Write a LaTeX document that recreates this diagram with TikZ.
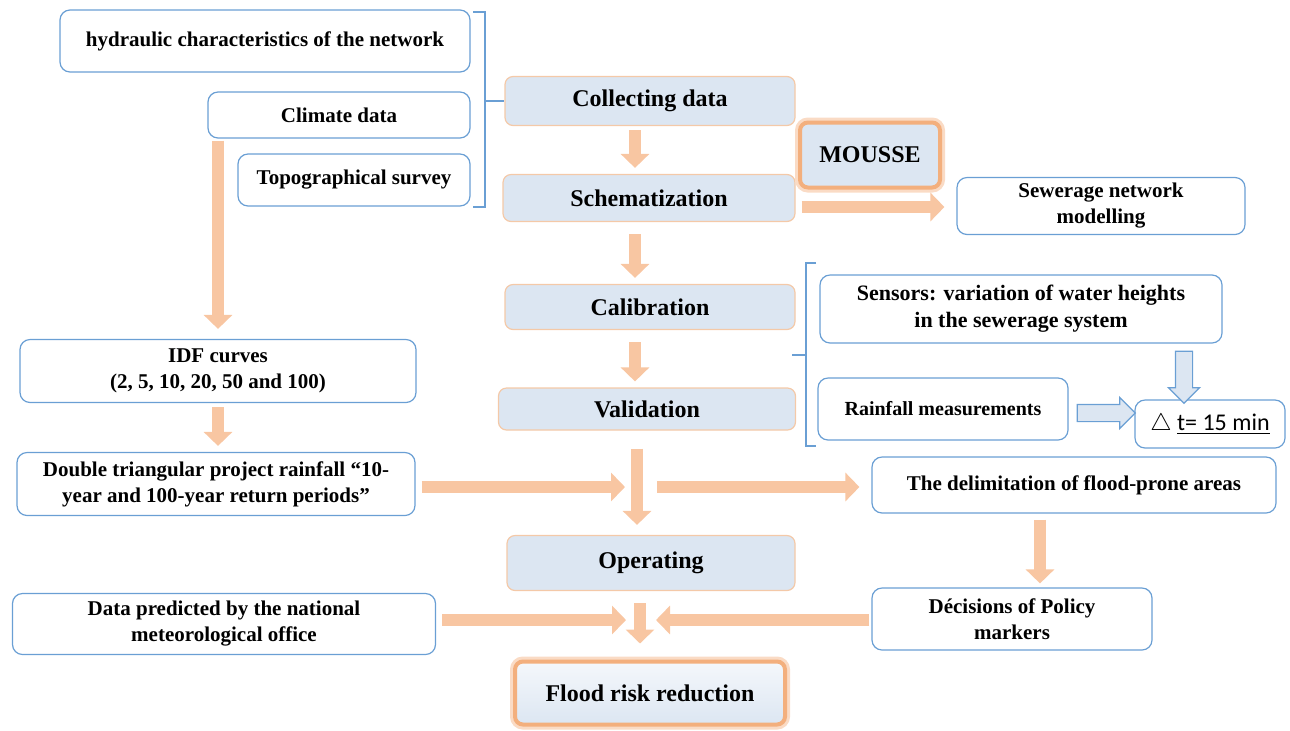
\documentclass[tikz,border=0pt]{standalone}
\usepackage{fontspec}
\setmainfont{Liberation Serif}
\newfontfamily\calfont{Carlito}
\usetikzlibrary{positioning, shapes.arrows, arrows.meta, calc}
\definecolor{sideblue}{HTML}{6A9FD4}
\definecolor{stepfill}{HTML}{DCE6F2}
\definecolor{stepline}{HTML}{F4C9A8}
\definecolor{peach}{HTML}{F8C6A2}
\definecolor{glow}{HTML}{F2A66E}

\tikzset{
  sidebox/.style={draw=sideblue, line width=0.6pt, rounded corners=5pt, fill=white,
                  align=center, inner sep=1pt, font=\bfseries\fontsize{10.5}{13}\selectfont},
  stepbox/.style={draw=stepline, line width=0.6pt, rounded corners=4pt, fill=stepfill,
                  align=center, inner sep=1pt, font=\bfseries\fontsize{12}{14}\selectfont},
  glowbox/.style={stepbox, preaction={draw=glow!40, line width=5pt},
                  draw=glow!90, line width=2pt},
  flow/.style={draw=peach, line width=6pt, -{Triangle[width=14pt,length=7pt]}},
  hollow/.style={single arrow, draw=sideblue, fill=stepfill, line width=0.6pt,
                 inner sep=4pt, single arrow head extend=3.5pt, minimum height=26pt},
  brace/.style={draw=sideblue, line width=0.6pt}
}

\begin{document}
\begin{tikzpicture}[x=0.5pt, y=-0.5pt]
  \useasboundingbox (0,0) rectangle (1290,730);

  % Input data
  \node[sidebox, minimum width=205pt, minimum height=31pt] (hydr) at (265,41) {hydraulic characteristics of the network};
  \node[sidebox, minimum width=131pt, minimum height=23pt] (climate) at (339,115) {Climate data};
  \node[sidebox, minimum width=116pt, minimum height=26pt] (topo) at (354,180) {Topographical survey};

  % Main steps
  \node[stepbox, minimum width=145pt, minimum height=24.5pt] (collect) at (650,101) {Collecting data};
  \node[stepbox, minimum width=146pt, minimum height=23.5pt] (schem) at (649,198) {Schematization};
  \node[stepbox, minimum width=145pt, minimum height=22.5pt] (calib) at (650,307) {Calibration};
  \node[stepbox, minimum width=148.5pt, minimum height=21pt] (valid) at (647,409) {Validation};
  \node[stepbox, minimum width=144pt, minimum height=27.5pt] (operate) at (651,563) {Operating};
  \node[glowbox, minimum width=70pt, minimum height=32.5pt] (mousse) at (870,155) {MOUSSE};
  \node[glowbox, top color=stepfill!30, bottom color=stepfill, minimum width=135pt, minimum height=31.5pt] (flood) at (650,693) {Flood risk reduction};

  % Right side
  \node[sidebox, minimum width=144pt, minimum height=28.5pt] (sewer) at (1101,206) {Sewerage network\\modelling};
  \node[sidebox, minimum width=201pt, minimum height=34pt, font=\bfseries\fontsize{11}{13.5}\selectfont] (sens) at (1021,309) {Sensors: variation of water heights\\in the sewerage system};
  \node[sidebox, minimum width=125pt, minimum height=31pt, font=\bfseries\fontsize{10}{12}\selectfont] (rain) at (943,409) {Rainfall measurements};
  \node[sidebox, minimum width=75pt, minimum height=24pt, font=\calfont\fontsize{12}{14}\selectfont] (dt) at (1210,424) {$\bigtriangleup$ \underline{t= 15 min}};
  \node[sidebox, minimum width=202pt, minimum height=28pt] (delim) at (1074,485) {The delimitation of flood-prone areas};
  \node[sidebox, minimum width=140pt, minimum height=31pt] (decis) at (1012,619) {Décisions of Policy\\markers};

  % Left side
  \node[sidebox, minimum width=198pt, minimum height=31.5pt] (idf) at (218,371) {IDF curves\\(2, 5, 10, 20, 50 and 100)};
  \node[sidebox, minimum width=199pt, minimum height=31.5pt] (double) at (216,484) {Double triangular project rainfall “10-\\year and 100-year return periods”};
  \node[sidebox, minimum width=211.5pt, minimum height=30.5pt] (datap) at (224,624) {Data predicted by the national\\meteorological office};

  \coordinate (col) at (635,0);
  \coordinate (mid) at (637,487);
  \coordinate (merge) at (640,620);

  % Brackets
  \draw[brace] (473,12) -- (485,12) -- (485,207) -- (473,207);
  \draw[brace] (485,0 |- collect.west) -- (collect.west);
  \draw[brace] (816,263) -- (806,263) -- (806,446) -- (816,446);
  \draw[brace] (806,355) -- (792,355);

  % Flow arrows
  \draw[flow, shorten <=2pt, shorten >=3pt] (collect.south -| col) -- (schem.north -| col);
  \draw[flow, shorten <=6pt, shorten >=3pt] (schem.south -| col) -- (calib.north -| col);
  \draw[flow, shorten <=6pt, shorten >=3pt] (calib.south -| col) -- (valid.north -| col);
  \draw[flow, shorten <=9pt, shorten >=5pt] (valid.south -| mid) -- (operate.north -| mid);
  \draw[flow, shorten <=3pt, shorten >=6pt] ([yshift=-4.5pt]schem.east) -- ([yshift=-4.5pt]schem.east -| sewer.west);
  \draw[flow, shorten <=1pt, shorten >=5pt] (climate.south -| idf.north) -- (idf.north);
  \draw[flow, shorten <=2pt, shorten >=3pt] (idf.south) -- (double.north -| idf.south);
  \draw[flow, shorten <=3pt, shorten >=6pt] (double.east |- mid) -- (mid);
  \draw[flow, shorten <=10pt, shorten >=6pt] (mid) -- (delim.west |- mid);
  \draw[flow, shorten <=3pt, shorten >=2pt] (delim.south -| 1040,0) -- (decis.north -| 1040,0);
  \draw[flow, shorten <=3pt, shorten >=7pt] (datap.east |- merge) -- (merge);
  \draw[flow, shorten <=1pt, shorten >=8pt] (decis.west |- merge) -- (merge);
  \draw[flow, shorten <=6pt, shorten >=8pt] (operate.south -| merge) -- (flood.north -| merge);

  % Hollow arrows to the time step
  \node[hollow, rotate=-90] (arrsens) at (1184,373) {};
  \node[hollow, minimum height=29pt] (arrrain) at (1102,413) {};
\end{tikzpicture}
\end{document}
